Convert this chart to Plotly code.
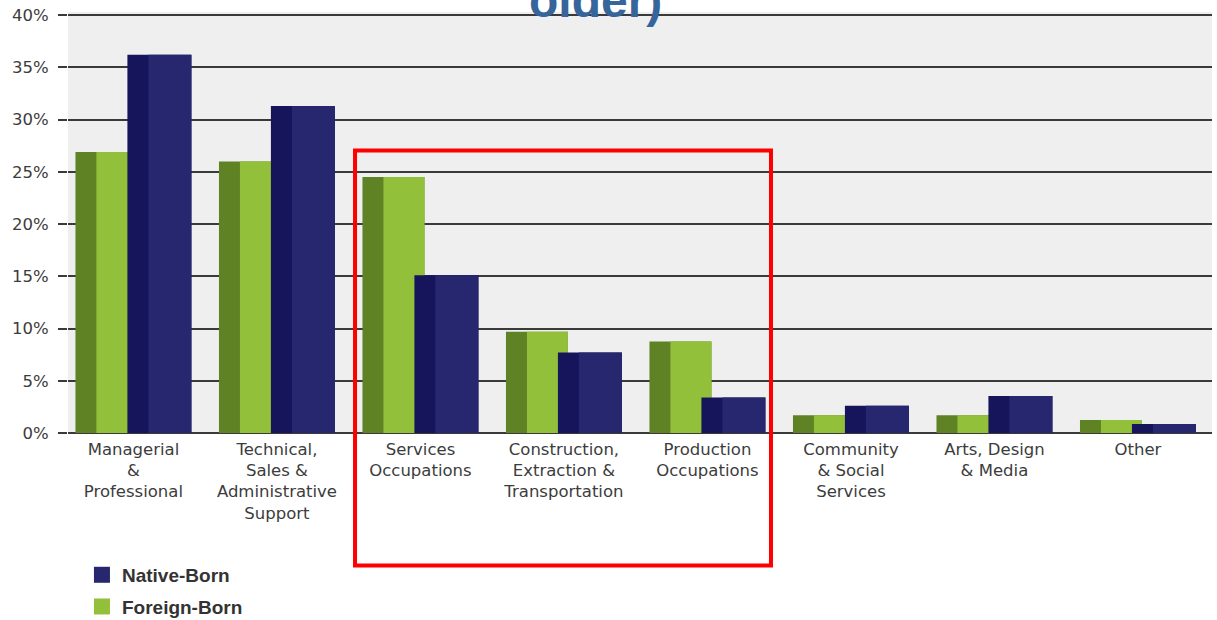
import plotly.graph_objects as go

categories = [
    "Managerial<br>&<br>Professional",
    "Technical,<br>Sales &<br>Administrative<br>Support",
    "Services<br>Occupations",
    "Construction,<br>Extraction &<br>Transportation",
    "Production<br>Occupations",
    "Community<br>& Social<br>Services",
    "Arts, Design<br>& Media",
    "Other",
]
foreign_born = [26.9, 26.0, 24.5, 9.7, 8.75, 1.7, 1.7, 1.25]
native_born = [36.2, 31.3, 15.1, 7.7, 3.4, 2.6, 3.55, 0.85]
y_ticks = [0, 5, 10, 15, 20, 25, 30, 35, 40]
y_labels = [f"{v}%" for v in y_ticks]

GREEN_DARK = "#5e8224"
GREEN_LIGHT = "#93c03a"
NAVY_DARK = "#16145a"
NAVY_LIGHT = "#26276f"

fig = go.Figure()

# Foreign-born: side face (dark) + front face (light)
fig.add_trace(go.Bar(x=categories, y=foreign_born, offset=-0.404, width=0.432,
                     marker=dict(color=GREEN_DARK, line=dict(width=0)), showlegend=False))
fig.add_trace(go.Bar(x=categories, y=foreign_born, offset=-0.258, width=0.286,
                     marker=dict(color=GREEN_LIGHT, line=dict(width=0)), showlegend=False))
# Native-born
fig.add_trace(go.Bar(x=categories, y=native_born, offset=-0.042, width=0.446,
                     marker=dict(color=NAVY_DARK, line=dict(width=0)), showlegend=False))
fig.add_trace(go.Bar(x=categories, y=native_born, offset=0.104, width=0.300,
                     marker=dict(color=NAVY_LIGHT, line=dict(width=0)), showlegend=False))

# Legend entries
fig.add_trace(go.Scatter(x=[None], y=[None], mode="markers", name="Native-Born",
                         marker=dict(symbol="square", size=16, color=NAVY_LIGHT),
                         legendgroup="a"))
fig.add_trace(go.Scatter(x=[None], y=[None], mode="markers", name="Foreign-Born",
                         marker=dict(symbol="square", size=16, color=GREEN_LIGHT),
                         legendgroup="b"))

fig.update_layout(
    width=1217, height=620,
    margin=dict(l=68, r=5, t=12, b=187, autoexpand=False),
    barmode="overlay",
    paper_bgcolor="white",
    plot_bgcolor="#efefef",
    font=dict(family="DejaVu Sans", color="#3c3c3c"),
    xaxis=dict(
        type="category",
        range=[-0.456, 7.516],
        showgrid=False,
        showline=False,
        ticks="",
        ticklabelstandoff=4,
        tickfont=dict(family="DejaVu Sans", size=16.5, color="#3c3c3c"),
        fixedrange=True,
    ),
    yaxis=dict(
        range=[0, 40.3],
        tickvals=y_ticks,
        ticktext=y_labels,
        showgrid=True,
        gridcolor="#3a3a3a",
        gridwidth=2,
        zeroline=True,
        zerolinecolor="#3a3a3a",
        zerolinewidth=2,
        ticks="outside",
        ticklen=9,
        tickwidth=2,
        tickcolor="#3a3a3a",
        ticklabelstandoff=6,
        tickfont=dict(family="DejaVu Sans", size=16.5, color="#3c3c3c"),
        showline=False,
    ),
    legend=dict(
        x=0.0122, y=-0.292, xanchor="left", yanchor="top",
        bgcolor="rgba(0,0,0,0)",
        font=dict(family="Liberation Sans", size=19, color="#333333", weight="bold"),
        tracegroupgap=4,
        traceorder="grouped",
    ),
    shapes=[
        dict(type="rect", xref="paper", yref="paper",
             x0=0.2509, x1=0.6145, y0=-0.3147, y1=0.671,
             line=dict(color="#ff0000", width=4), fillcolor="rgba(0,0,0,0)",
             layer="above"),
    ],
    annotations=[
        dict(text="<b>older)</b>", xref="paper", yref="paper",
             x=(595 - 68) / 1144, y=0.962,
             xanchor="center", yanchor="bottom", showarrow=False,
             font=dict(family="Liberation Sans", size=48, color="#35659b"),
             borderpad=0),
    ],
)

fig.write_html("out.html", config={"displayModeBar": False},
               post_script="document.body.style.margin='0';")
